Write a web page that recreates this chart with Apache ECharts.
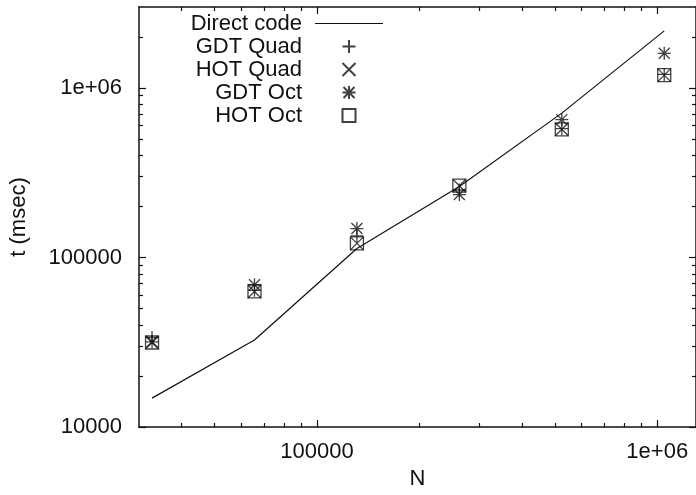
<!DOCTYPE html>
<html>
<head>
<meta charset="utf-8">
<script src="https://cdn.jsdelivr.net/npm/echarts@6/dist/echarts.min.js"></script>
<style>
  html, body { margin: 0; padding: 0; background: #fff; }
  #chart { width: 696px; height: 495px; }
</style>
</head>
<body>
<div id="chart"></div>
<script>
// Problem sizes and timings (msec)
const N = [32768, 65536, 131072, 262144, 524288, 1048576];
const directCode = [14800, 32600, 113000, 262000, 710000, 2170000];
const gdtQuad = [33700, 64000, 134000, 250000, 575000, 1200000];
const hotQuad = [31500, 63000, 121000, 265000, 570000, 1190000];
const gdtOct = [31800, 69000, 148000, 235000, 650000, 1600000];
const hotOct = [31500, 63000, 121000, 265000, 569000, 1190000];

// Axis ranges and ticks
const xMin = 30000, xMax = 1.3e6;
const yMin = 10000, yMax = 3e6;
const xMajorTicks = [1e5, 1e6];
const xTickLabels = ['100000', '1e+06'];
const xMinorTicks = [4e4, 5e4, 6e4, 7e4, 8e4, 9e4, 2e5, 3e5, 4e5, 5e5, 6e5, 7e5, 8e5, 9e5];
const yMajorTicks = [1e4, 1e5, 1e6];
const yTickLabels = ['10000', '100000', '1e+06'];
const yMinorTicks = [2e4, 3e4, 4e4, 5e4, 6e4, 7e4, 8e4, 9e4, 2e5, 3e5, 4e5, 5e5, 6e5, 7e5, 8e5, 9e5, 2e6];

const FONT = "'Liberation Sans', Helvetica, Arial, sans-serif";
const INK = '#111';

function labelFor(values, labels) {
  return function (v) {
    for (let i = 0; i < values.length; i++) {
      if (Math.abs(Math.log10(v) - Math.log10(values[i])) < 1e-6) return labels[i];
    }
    return '';
  };
}

// One log axis: either a framed axis with long ticks, or a bare axis with short ticks
function logAxis(position, min, max, ticks, major, extra) {
  return Object.assign({
    type: 'log', logBase: 10, min: min, max: max, position: position,
    axisLine: { show: major, lineStyle: { color: INK, width: 1.5 } },
    axisTick: { show: true, inside: true, length: major ? 7 : 4, customValues: ticks,
                lineStyle: { color: INK, width: 1.2 } },
    axisLabel: { show: false },
    splitLine: { show: false },
    minorTick: { show: false }
  }, extra || {});
}

const labelStyle = { fontSize: 22, color: INK, fontFamily: FONT };

const xAxes = [
  logAxis('bottom', xMin, xMax, xMajorTicks, true, {
    axisLabel: Object.assign({ show: true, customValues: xMajorTicks, margin: 14,
      formatter: labelFor(xMajorTicks, xTickLabels) }, labelStyle),
    name: 'N', nameLocation: 'middle', nameGap: 40,
    nameTextStyle: Object.assign({}, labelStyle)
  }),
  logAxis('bottom', xMin, xMax, xMinorTicks, false),
  logAxis('top', xMin, xMax, xMajorTicks, true),
  logAxis('top', xMin, xMax, xMinorTicks, false)
];

const yAxes = [
  logAxis('left', yMin, yMax, yMajorTicks, true, {
    axisLabel: Object.assign({ show: true, customValues: yMajorTicks, margin: 17,
      formatter: labelFor(yMajorTicks, yTickLabels) }, labelStyle),
    name: 't (msec)', nameLocation: 'middle', nameGap: 109, nameRotate: 90,
    nameTextStyle: Object.assign({}, labelStyle)
  }),
  logAxis('left', yMin, yMax, yMinorTicks, false),
  logAxis('right', yMin, yMax, yMajorTicks, true),
  logAxis('right', yMin, yMax, yMinorTicks, false)
];

const SYM = {
  plus: 'path://M0,6.5H13M6.5,0V13',
  cross: 'path://M0,0L13,13M13,0L0,13',
  star: 'path://M0,6.5H13M6.5,0V13M1,1L12,12M12,1L1,12',
  box: 'path://M0,0H13V13H0Z',
  line: 'path://M0,0H68V1.2H0Z'
};

function pairs(ys) { return N.map((n, i) => [n, ys[i]]); }

function pointSeries(name, ys, symbol) {
  return {
    name: name, type: 'scatter', data: pairs(ys),
    symbol: symbol, symbolSize: 13,
    itemStyle: { color: 'transparent', borderColor: INK, borderWidth: 1.3 },
    emphasis: { disabled: true }
  };
}

const chart = echarts.init(document.getElementById('chart'), null, { renderer: 'canvas' });
chart.setOption({
  animation: false,
  backgroundColor: '#fff',
  grid: { left: 138, top: 7, right: -3, bottom: 68, containLabel: false },
  xAxis: xAxes,
  yAxis: yAxes,
  legend: {
    orient: 'vertical', align: 'right', right: 313, top: 12, padding: 0,
    itemWidth: 68, itemHeight: 13, itemGap: 0,
    textStyle: { fontSize: 22, lineHeight: 23, color: INK, fontFamily: FONT, padding: [0, 8, 0, 0] },
    data: [
      { name: 'Direct code', icon: SYM.line, itemStyle: { color: INK, borderWidth: 0 } },
      { name: 'GDT Quad', icon: SYM.plus },
      { name: 'HOT Quad', icon: SYM.cross },
      { name: 'GDT Oct', icon: SYM.star },
      { name: 'HOT Oct', icon: SYM.box }
    ]
  },
  series: [
    {
      name: 'Direct code', type: 'line', data: pairs(directCode), symbol: 'none',
      lineStyle: { color: INK, width: 1.2 }, itemStyle: { color: INK },
      emphasis: { disabled: true }
    },
    pointSeries('GDT Quad', gdtQuad, SYM.plus),
    pointSeries('HOT Quad', hotQuad, SYM.cross),
    pointSeries('GDT Oct', gdtOct, SYM.star),
    pointSeries('HOT Oct', hotOct, SYM.box)
  ]
});
</script>
</body>
</html>
